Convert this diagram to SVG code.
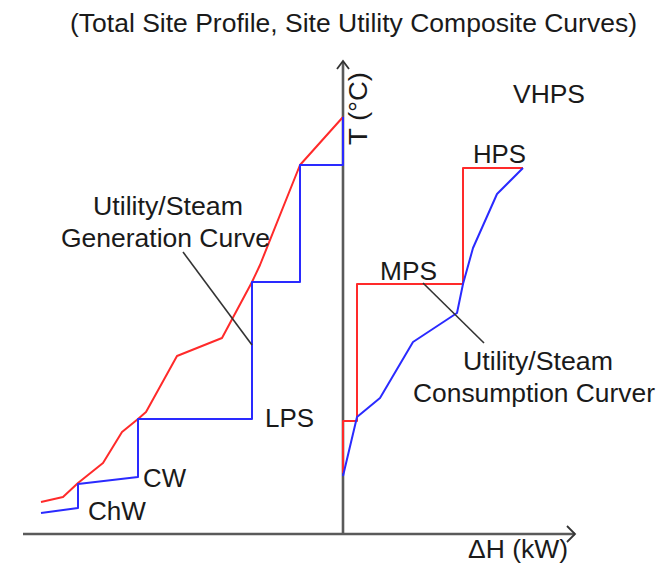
<svg xmlns="http://www.w3.org/2000/svg" width="666" height="570" viewBox="0 0 666 570">
<style>
.t{font-family:"Liberation Sans",Arial,sans-serif;font-size:25px;fill:#1a1a1a;}
.red{fill:none;stroke:#ff2a2a;stroke-width:2;stroke-linejoin:round;}
.blue{fill:none;stroke:#2a2aff;stroke-width:2;stroke-linejoin:round;}
.axis{fill:none;stroke:#5a5a5a;stroke-width:2.6;}
.arrow{fill:none;stroke:#333;stroke-width:1.8;}
.lead{fill:none;stroke:#333;stroke-width:1.6;}
</style>
<rect width="666" height="570" fill="#ffffff"/>
<g id="axes">
<line class="axis" x1="23" y1="534" x2="575" y2="534"/>
<line class="axis" x1="343" y1="535" x2="343" y2="62"/>
<polyline class="arrow" points="337,69 343,61 349,69"/>
<polyline class="arrow" points="567,526 575,534 567,542"/>
</g>
<g id="generation-curves">
<polyline class="red" points="41,502 63,497 78,483 103,463 122,432 138,419 146,412 177,356 222,338 252,282 260,265 300,165 343,117"/>
<polyline class="blue" points="41,513 78,508 78,484 138,477 138,419 252,419 252,282 300,282 300,165 343,165 343,117"/>
</g>
<g id="consumption-curves">
<polyline class="red" points="343,473 343,421 357,421 357,284 463,284 463,168 523,168"/>
<polyline class="blue" points="343,476 357,417 380,398 413,342 457,313 463,284 473,248 497,194 523,168"/>
</g>
<g id="connectors">
<line class="lead" x1="183" y1="252" x2="252" y2="345"/>
<line class="lead" x1="423" y1="283" x2="484" y2="343"/>
</g>
<g id="labels">
<text class="t" x="70" y="32" textLength="567" lengthAdjust="spacingAndGlyphs">(Total Site Profile, Site Utility Composite Curves)</text>
<text class="t" x="93" y="215" textLength="150" lengthAdjust="spacingAndGlyphs">Utility/Steam</text>
<text class="t" x="61" y="247" textLength="209" lengthAdjust="spacingAndGlyphs">Generation Curve</text>
<text class="t" x="265" y="427" textLength="49" lengthAdjust="spacingAndGlyphs">LPS</text>
<text class="t" x="143" y="487" textLength="43" lengthAdjust="spacingAndGlyphs">CW</text>
<text class="t" x="88" y="520" textLength="58" lengthAdjust="spacingAndGlyphs">ChW</text>
<text class="t" x="513" y="103" textLength="72" lengthAdjust="spacingAndGlyphs">VHPS</text>
<text class="t" x="473" y="163" textLength="53" lengthAdjust="spacingAndGlyphs">HPS</text>
<text class="t" x="380" y="280" textLength="57" lengthAdjust="spacingAndGlyphs">MPS</text>
<text class="t" x="463" y="370" textLength="150" lengthAdjust="spacingAndGlyphs">Utility/Steam</text>
<text class="t" x="413" y="402" textLength="242" lengthAdjust="spacingAndGlyphs">Consumption Curver</text>
<text class="t" x="468" y="558" textLength="100" lengthAdjust="spacingAndGlyphs">ΔH (kW)</text>
<text class="t" transform="translate(367,145) rotate(-90)" x="0" y="0" textLength="73" lengthAdjust="spacingAndGlyphs">T (°C)</text>
</g>
</svg>
